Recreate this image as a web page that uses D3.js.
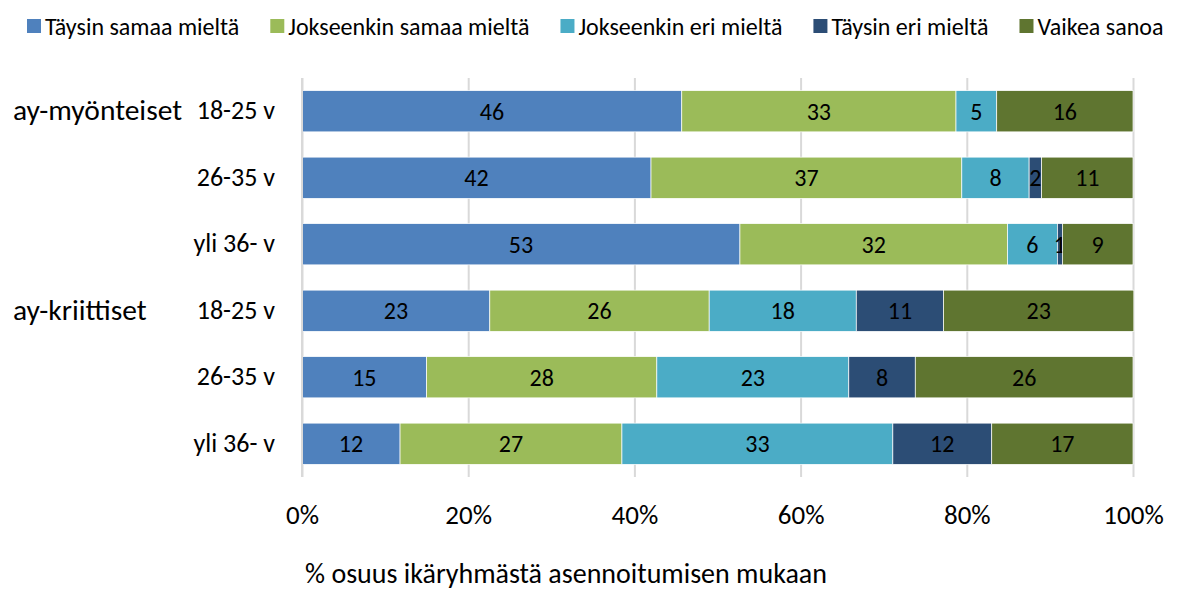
<!DOCTYPE html>
<html>
<head>
<meta charset="utf-8">
<script src="https://cdn.jsdelivr.net/npm/d3@7"></script>
<style>
  body { margin: 0; background: #fff; }
  text { font-family: Carlito, Lato, sans-serif; fill: #000; }
</style>
</head>
<body>
<div id="chart"></div>
<script>
// answer categories (legend order = stack order)
const answers = ["Täysin samaa mieltä", "Jokseenkin samaa mieltä", "Jokseenkin eri mieltä", "Täysin eri mieltä", "Vaikea sanoa"];
const colors = ["#4F81BD", "#9BBB59", "#4BACC6", "#2C4D75", "#5F7530"];

// rows, top to bottom
const groups = ["ay-myönteiset", "ay-myönteiset", "ay-myönteiset", "ay-kriittiset", "ay-kriittiset", "ay-kriittiset"];
const ages = ["18-25 v", "26-35 v", "yli 36- v", "18-25 v", "26-35 v", "yli 36- v"];

// % share per answer, one array per answer category
const taysinSamaa     = [45.7, 42.0, 52.7, 22.6, 15.0, 11.8];
const jokseenkinSamaa = [33.0, 37.4, 32.2, 26.4, 27.7, 26.7];
const jokseenkinEri   = [4.9, 8.1, 6.0, 17.7, 23.1, 32.6];
const taysinEri       = [0, 1.5, 0.6, 10.5, 8.0, 11.9];
const vaikeaSanoa     = [16.4, 11.0, 8.5, 22.9, 26.2, 17.0];

const xTicks = [0, 20, 40, 60, 80, 100];
const xTitle = "% osuus ikäryhmästä asennoitumisen mukaan";

const width = 1177, height = 590;
const margin = {left: 302, right: 44, top: 78, bottom: 113};

const series = [taysinSamaa, jokseenkinSamaa, jokseenkinEri, taysinEri, vaikeaSanoa];
const rows = ages.map((a, i) => {
    const r = {id: i};
    answers.forEach((k, j) => r[k] = series[j][i]);
    return r;
});

const stacked = d3.stack().keys(answers)(rows);

const x = d3.scaleLinear()
    .domain([0, 100])
    .range([margin.left, width - margin.right]);

const y = d3.scaleBand()
    .domain(rows.map(d => d.id))
    .range([margin.top, height - margin.bottom])
    .paddingInner(0.38)
    .paddingOuter(0.19);

const color = d3.scaleOrdinal().domain(answers).range(colors);

const svg = d3.select("#chart")
    .append("svg")
    .attr("width", width)
    .attr("height", height);

// gridlines
svg.append("g")
    .attr("transform", `translate(0, ${height - margin.bottom})`)
    .call(d3.axisBottom(x).tickValues(xTicks).tickSize(-(height - margin.bottom - margin.top)).tickFormat(""))
    .call(g => g.select(".domain").remove())
    .selectAll(".tick line")
    .attr("stroke", "#d9d9d9")
    .attr("stroke-width", 2);

// x tick labels
svg.append("g")
    .attr("transform", `translate(0, ${height - margin.bottom})`)
    .call(d3.axisBottom(x).tickValues(xTicks).tickSize(0).tickFormat(d => d + "%"))
    .call(g => g.select(".domain").remove())
    .selectAll(".tick text")
    .attr("y", 47)
    .attr("dy", 0)
    .attr("font-size", "27px");

// bars
const layer = svg.append("g")
    .selectAll("g")
    .data(stacked)
    .join("g")
    .attr("fill", d => color(d.key));

layer.selectAll("rect")
    .data(d => d)
    .join("rect")
    .attr("x", d => x(d[0]))
    .attr("y", d => y(d.data.id))
    .attr("width", d => x(d[1]) - x(d[0]))
    .attr("height", y.bandwidth())
    .attr("stroke", "#fff")
    .attr("stroke-width", 0.7);

// value labels
layer.selectAll("text")
    .data(d => d.filter(v => v[1] - v[0] > 0))
    .join("text")
    .attr("x", d => (x(d[0]) + x(d[1])) / 2)
    .attr("y", d => y(d.data.id) + y.bandwidth() / 2)
    .attr("dy", "0.36em")
    .attr("text-anchor", "middle")
    .attr("font-size", "24px")
    .text(d => Math.round(d[1] - d[0]));

// age labels
svg.append("g")
    .attr("transform", `translate(${margin.left}, 0)`)
    .call(d3.axisLeft(y).tickSize(0).tickPadding(27).tickFormat(i => ages[i]))
    .call(g => g.select(".domain").remove())
    .selectAll(".tick text")
    .attr("dy", "0.3em")
    .attr("font-size", "26px");

// group labels
const groupStarts = rows.filter((d, i) => i === 0 || groups[i] !== groups[i - 1]);
svg.append("g")
    .selectAll("text")
    .data(groupStarts)
    .join("text")
    .attr("x", 13)
    .attr("y", d => y(d.id) + y.bandwidth() / 2)
    .attr("dy", "0.3em")
    .attr("font-size", "29.5px")
    .text(d => groups[d.id]);

// 0% axis line
svg.append("line")
    .attr("x1", x(0)).attr("x2", x(0))
    .attr("y1", margin.top).attr("y2", height - margin.bottom)
    .attr("stroke", "#d9d9d9")
    .attr("stroke-width", 2);

// x axis title
svg.append("text")
    .attr("x", 566)
    .attr("y", 583)
    .attr("text-anchor", "middle")
    .attr("font-size", "28px")
    .text(xTitle);

// legend, laid out left to right
const legend = svg.append("g")
    .attr("transform", "translate(27, 26)");

let lx = 0;
answers.forEach(a => {
    const item = legend.append("g").attr("transform", `translate(${lx}, 0)`);
    item.append("rect")
        .attr("x", 0)
        .attr("y", -7)
        .attr("width", 14)
        .attr("height", 14)
        .attr("fill", color(a));
    const t = item.append("text")
        .attr("x", 18)
        .attr("dy", "0.36em")
        .attr("font-size", "24px")
        .text(a);
    lx += 18 + t.node().getComputedTextLength() + 31;
});
</script>
</body>
</html>
